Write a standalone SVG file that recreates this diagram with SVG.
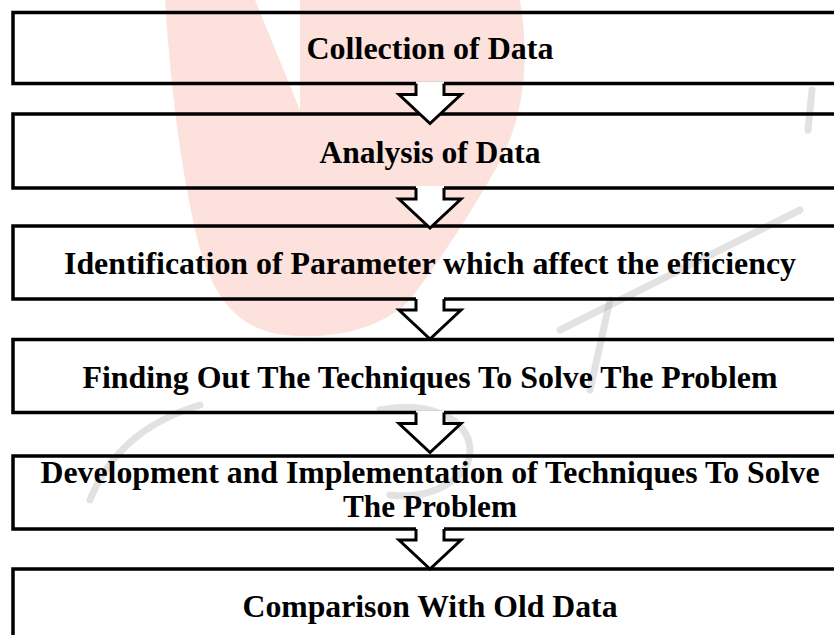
<svg xmlns="http://www.w3.org/2000/svg" width="834" height="635" viewBox="0 0 834 635">
  <style>
    .box { fill: none; stroke: #000; stroke-width: 3.5; }
    .arrow-fill { fill: #fff; stroke: none; }
    .arrow-line { fill: none; stroke: #000; stroke-width: 3; stroke-linejoin: miter; }
    .label { font-family: "Liberation Serif", "Times New Roman", serif; font-weight: bold; font-size: 32px; fill: #000; text-anchor: middle; }
    .wm-pink { fill: #f7b4a8; opacity: 0.4; }
    .wm-gray { fill: none; stroke: #a0a0a0; stroke-width: 7; stroke-linecap: round; opacity: 0.3; }
  </style>
  <rect width="834" height="635" fill="#fff"/>

  <g id="watermark">
    <path class="wm-pink" d="M165,0 L255,0 L300,110 L300,0 L520,0 C530,60 525,120 495,170 C470,215 440,260 410,300 C380,330 330,340 285,335 C240,330 215,300 200,250 C185,190 172,110 165,0 Z"/>
    <path class="wm-gray" d="M560,330 C620,300 700,260 800,210"/>
    <path class="wm-gray" d="M610,300 L590,390"/>
    <path class="wm-gray" d="M200,405 C150,420 110,450 90,500"/>
    <path class="wm-gray" d="M380,410 C430,400 470,420 470,450 C470,480 430,500 390,495"/>
    <path class="wm-gray" d="M812,90 L808,130"/>
  </g>

  <g id="n1">
    <rect class="box" x="13" y="12.5" width="850" height="71"/>
    <text class="label" x="430" y="59" textLength="247" lengthAdjust="spacingAndGlyphs">Collection of Data</text>
  </g>
  <g id="n2">
    <rect class="box" x="13" y="114" width="850" height="74"/>
    <text class="label" x="430" y="163" textLength="221" lengthAdjust="spacingAndGlyphs">Analysis of Data</text>
  </g>
  <g id="n3">
    <rect class="box" x="13" y="226" width="850" height="73"/>
    <text class="label" x="430" y="274" textLength="732" lengthAdjust="spacingAndGlyphs">Identification of Parameter which affect the efficiency</text>
  </g>
  <g id="n4">
    <rect class="box" x="13" y="339.5" width="850" height="73"/>
    <text class="label" x="430" y="388" textLength="695" lengthAdjust="spacingAndGlyphs">Finding Out The Techniques To Solve The Problem</text>
  </g>
  <g id="n5">
    <rect class="box" x="13" y="456" width="850" height="73"/>
    <text class="label" x="430" y="483" textLength="779" lengthAdjust="spacingAndGlyphs">Development and Implementation of Techniques To Solve</text>
    <text class="label" x="430" y="517" textLength="174" lengthAdjust="spacingAndGlyphs">The Problem</text>
  </g>
  <g id="n6">
    <rect class="box" x="13" y="569" width="850" height="76"/>
    <text class="label" x="430" y="617" textLength="375" lengthAdjust="spacingAndGlyphs">Comparison With Old Data</text>
  </g>

  <g id="connectors">
    <g transform="translate(0,83.5)">
      <path class="arrow-fill" d="M416,-2 L444,-2 L444,11 L461,11 L430,40 L399,11 L416,11 Z"/>
      <path class="arrow-line" d="M416,0 L416,11 L399,11 L430,40 L461,11 L444,11 L444,0"/>
    </g>
    <g transform="translate(0,188)">
      <path class="arrow-fill" d="M416,-2 L444,-2 L444,11 L461,11 L430,40 L399,11 L416,11 Z"/>
      <path class="arrow-line" d="M416,0 L416,11 L399,11 L430,40 L461,11 L444,11 L444,0"/>
    </g>
    <g transform="translate(0,299)">
      <path class="arrow-fill" d="M416,-2 L444,-2 L444,11 L461,11 L430,40 L399,11 L416,11 Z"/>
      <path class="arrow-line" d="M416,0 L416,11 L399,11 L430,40 L461,11 L444,11 L444,0"/>
    </g>
    <g transform="translate(0,412.5)">
      <path class="arrow-fill" d="M416,-2 L444,-2 L444,11 L461,11 L430,40 L399,11 L416,11 Z"/>
      <path class="arrow-line" d="M416,0 L416,11 L399,11 L430,40 L461,11 L444,11 L444,0"/>
    </g>
    <g transform="translate(0,529)">
      <path class="arrow-fill" d="M416,-2 L444,-2 L444,11 L461,11 L430,40 L399,11 L416,11 Z"/>
      <path class="arrow-line" d="M416,0 L416,11 L399,11 L430,40 L461,11 L444,11 L444,0"/>
    </g>
  </g>
</svg>
